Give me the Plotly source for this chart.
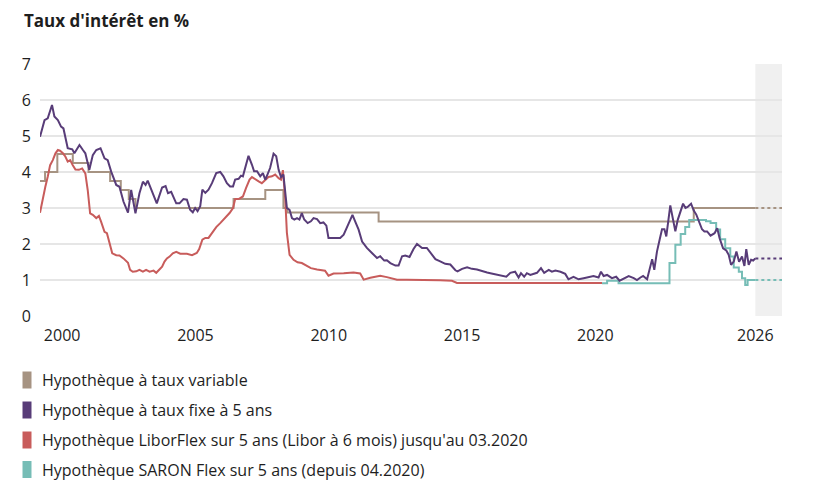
import plotly.graph_objects as go

# ---------------- data ----------------
variable_x = [1999.17, 1999.36, 1999.82, 2000.40, 2000.99, 2001.80, 2002.20, 2002.50, 2002.75,
              2006.43, 2007.62, 2008.30, 2008.45, 2011.87, 2023.69, 2026.00]
variable_y = [3.75, 4.0, 4.5, 4.25, 4.0, 3.75, 3.5, 3.25, 3.0,
              3.25, 3.5, 3.0, 2.875, 2.625, 3.0, 3.0]

fixed_x = [1999.17, 1999.34, 1999.46, 1999.62, 1999.71, 1999.84, 1999.96, 2000.05, 2000.21, 2000.38,
           2000.46, 2000.65, 2000.78, 2000.87, 2001.02, 2001.15, 2001.28, 2001.44, 2001.59, 2001.71,
           2001.84, 2002.03, 2002.15, 2002.30, 2002.47, 2002.59, 2002.75, 2002.90, 2003.03, 2003.13,
           2003.21, 2003.40, 2003.55, 2003.75, 2003.88, 2003.97, 2004.09, 2004.28, 2004.40, 2004.55,
           2004.68, 2004.80, 2004.90, 2004.99, 2005.08, 2005.18, 2005.26, 2005.37, 2005.49, 2005.62,
           2005.78, 2005.93, 2006.05, 2006.18, 2006.30, 2006.41, 2006.49, 2006.62, 2006.71, 2006.78,
           2006.87, 2006.99, 2007.12, 2007.20, 2007.31, 2007.43, 2007.53, 2007.62, 2007.70, 2007.80,
           2007.93, 2008.03, 2008.12, 2008.21, 2008.30, 2008.37, 2008.43, 2008.53, 2008.62, 2008.71,
           2008.81, 2008.90, 2008.99, 2009.08, 2009.21, 2009.33, 2009.43, 2009.56, 2009.68, 2009.80,
           2009.91, 2009.99, 2010.18, 2010.43, 2010.56, 2010.68, 2010.81, 2010.89, 2010.99, 2011.12,
           2011.25, 2011.43, 2011.62, 2011.81, 2011.93, 2012.08, 2012.18, 2012.31, 2012.50, 2012.62,
           2012.75, 2012.87, 2013.03, 2013.18, 2013.31, 2013.41, 2013.50, 2013.68, 2013.81, 2014.00,
           2014.18, 2014.37, 2014.56, 2014.75, 2014.83, 2015.00, 2015.19, 2015.37, 2015.56, 2015.75,
           2015.94, 2016.06, 2016.31, 2016.56, 2016.66, 2016.81, 2016.99, 2017.12, 2017.21, 2017.33,
           2017.43, 2017.56, 2017.68, 2017.81, 2017.96, 2018.08, 2018.25, 2018.37, 2018.50, 2018.69,
           2018.87, 2018.99, 2019.18, 2019.37, 2019.56, 2019.75, 2019.93, 2020.12, 2020.21, 2020.31,
           2020.44, 2020.62, 2020.78, 2020.91, 2021.09, 2021.25, 2021.44, 2021.56, 2021.69, 2021.79,
           2021.94, 2022.04, 2022.13, 2022.21, 2022.31, 2022.41, 2022.50, 2022.59, 2022.66, 2022.81,
           2022.91, 2023.00, 2023.09, 2023.16, 2023.29, 2023.38, 2023.46, 2023.59, 2023.69, 2023.79,
           2023.91, 2024.00, 2024.09, 2024.19, 2024.32, 2024.47, 2024.57, 2024.66, 2024.79, 2024.91,
           2025.00, 2025.09, 2025.19, 2025.29, 2025.39, 2025.50, 2025.59, 2025.66, 2025.75, 2025.84,
           2025.92, 2026.00]
fixed_y = [4.98, 5.44, 5.49, 5.86, 5.54, 5.44, 5.26, 5.21, 4.66, 4.63,
           4.52, 4.75, 4.61, 4.52, 4.06, 4.47, 4.61, 4.66, 4.38, 4.33,
           4.01, 3.64, 3.59, 3.18, 2.87, 3.50, 2.85, 3.41, 3.73, 3.64,
           3.76, 3.41, 3.13, 3.57, 3.61, 3.41, 3.45, 3.13, 3.13, 3.25,
           3.23, 2.95, 2.88, 3.00, 2.91, 3.05, 3.51, 3.42, 3.51, 3.69,
           3.97, 4.00, 3.88, 3.69, 3.60, 3.60, 3.79, 3.81, 3.90, 3.88,
           4.16, 4.45, 4.20, 4.02, 4.02, 3.88, 3.97, 3.79, 3.93, 4.11,
           4.51, 4.44, 4.06, 3.86, 3.93, 3.51, 3.00, 2.95, 2.72, 2.68,
           2.72, 2.68, 2.86, 2.68, 2.58, 2.63, 2.72, 2.69, 2.58, 2.60,
           2.51, 2.17, 2.17, 2.17, 2.26, 2.47, 2.68, 2.81, 2.63, 2.40,
           2.07, 1.89, 1.75, 1.61, 1.66, 1.54, 1.55, 1.47, 1.40, 1.40,
           1.66, 1.68, 1.64, 1.86, 2.00, 1.95, 1.89, 1.89, 1.75, 1.58,
           1.52, 1.45, 1.43, 1.27, 1.24, 1.31, 1.35, 1.31, 1.29, 1.24,
           1.21, 1.19, 1.14, 1.11, 1.09, 1.20, 1.23, 1.07, 1.19, 1.09,
           1.19, 1.14, 1.17, 1.20, 1.33, 1.20, 1.28, 1.23, 1.26, 1.23,
           1.17, 1.02, 1.09, 1.02, 1.05, 1.09, 1.11, 1.07, 1.23, 1.11,
           1.14, 1.05, 1.09, 0.98, 1.05, 1.11, 1.05, 1.00, 1.07, 1.11,
           1.02, 1.28, 1.58, 1.28, 1.79, 2.12, 2.41, 2.41, 2.21, 3.07,
           2.67, 2.35, 2.67, 2.81, 3.12, 3.00, 3.03, 3.12, 2.93, 2.81,
           2.58, 2.41, 2.35, 2.35, 2.23, 2.30, 2.44, 2.16, 1.88, 1.82,
           1.70, 1.42, 1.51, 1.79, 1.51, 1.65, 1.39, 1.86, 1.42, 1.56,
           1.54, 1.60]

libor_x = [1999.17, 1999.28, 1999.37, 1999.46, 1999.55, 1999.65, 1999.75, 1999.84, 1999.92, 2000.03,
           2000.12, 2000.21, 2000.30, 2000.40, 2000.50, 2000.63, 2000.75, 2000.87, 2000.96, 2001.05,
           2001.15, 2001.28, 2001.38, 2001.46, 2001.59, 2001.68, 2001.78, 2001.88, 2002.03, 2002.15,
           2002.30, 2002.47, 2002.55, 2002.65, 2002.78, 2002.90, 2003.03, 2003.15, 2003.28, 2003.43,
           2003.53, 2003.65, 2003.75, 2003.84, 2003.93, 2004.03, 2004.15, 2004.28, 2004.43, 2004.68,
           2004.87, 2005.05, 2005.14, 2005.26, 2005.37, 2005.49, 2005.62, 2005.78, 2005.93, 2006.12,
           2006.28, 2006.41, 2006.49, 2006.62, 2006.78, 2006.90, 2007.03, 2007.12, 2007.24, 2007.37,
           2007.49, 2007.62, 2007.74, 2007.87, 2007.99, 2008.12, 2008.21, 2008.28, 2008.37, 2008.43,
           2008.53, 2008.68, 2008.83, 2008.99, 2009.15, 2009.33, 2009.56, 2009.74, 2009.86, 2009.99,
           2010.18, 2010.56, 2010.93, 2011.18, 2011.31, 2011.56, 2011.93, 2012.18, 2012.56, 2012.93,
           2013.43, 2014.18, 2014.62, 2014.81, 2020.25]
libor_y = [2.87, 3.31, 3.59, 3.87, 4.19, 4.33, 4.52, 4.61, 4.59, 4.52,
           4.43, 4.29, 4.33, 4.19, 4.07, 4.06, 4.10, 3.96, 3.50, 2.85,
           2.81, 2.72, 2.78, 2.62, 2.34, 2.30, 2.02, 1.74, 1.69, 1.68,
           1.60, 1.48, 1.28, 1.23, 1.24, 1.28, 1.23, 1.28, 1.23, 1.26,
           1.20, 1.30, 1.37, 1.51, 1.60, 1.65, 1.74, 1.78, 1.73, 1.73,
           1.69, 1.75, 1.86, 2.12, 2.17, 2.17, 2.32, 2.47, 2.58, 2.72,
           2.86, 3.00, 3.25, 3.25, 3.32, 3.56, 3.79, 3.86, 3.79, 3.74,
           3.69, 3.79, 3.86, 3.88, 3.93, 3.83, 3.79, 4.05, 3.23, 2.31,
           1.70, 1.56, 1.49, 1.47, 1.40, 1.33, 1.29, 1.27, 1.26, 1.12,
           1.18, 1.19, 1.21, 1.18, 1.01, 1.06, 1.12, 1.08, 1.01, 1.01,
           1.01, 0.99, 0.98, 0.92, 0.92]

saron_x = [2020.25, 2020.44, 2020.87, 2022.78, 2023.00, 2023.20, 2023.37, 2023.52, 2024.15, 2024.32,
           2024.53, 2024.68, 2024.87, 2025.06, 2025.19, 2025.38, 2025.50, 2025.62, 2025.71, 2026.00]
saron_y = [0.91, 0.98, 0.91, 1.47, 1.98, 2.28, 2.47, 2.67, 2.63, 2.58,
           2.40, 2.13, 1.88, 1.65, 1.35, 1.23, 1.05, 0.86, 1.00, 1.00]

forecast_start = 2026.0
forecast_end = 2027.0

x_tick_vals = [2000, 2005, 2010, 2015, 2020, 2026]
x_tick_text = ["2000", "2005", "2010", "2015", "2020", "2026"]
y_tick_vals = [0, 1, 2, 3, 4, 5, 6, 7]

title_text = "Taux d'intérêt en %"
legend_labels = ["Hypothèque à taux variable",
                 "Hypothèque à taux fixe à 5 ans",
                 "Hypothèque LiborFlex sur 5 ans (Libor à 6 mois) jusqu'au 03.2020",
                 "Hypothèque SARON Flex sur 5 ans (depuis 04.2020)"]

# ---------------- style ----------------
C_VAR = "#A69382"
C_FIX = "#583C78"
C_LIB = "#C85C5B"
C_SAR = "#76BDB6"
FONT = "Open Sans"
TXT = "#1e1e1e"

OFF = 8  # page body margin of the browser
W, H = 821 - OFF, 496 - OFF
# plot area in page pixels: x 40..782, y 64..316
ML = 40 - OFF
MT = 64 - OFF
MR = W - (782 - OFF)
MB = H - (316 - OFF)
PW, PH = W - ML - MR, H - MT - MB


def px_x(px):
    return (px - OFF - ML) / PW


def px_y(py):
    return (H - MB - (py - OFF)) / PH


fig = go.Figure()

# forecast shading
fig.add_shape(type="rect", xref="x", yref="y", x0=forecast_start, x1=forecast_end, y0=0, y1=7,
              fillcolor="#F0F0F0", line_width=0, layer="below")

series = [
    (variable_x, variable_y, C_VAR, "hv"),
    (libor_x, libor_y, C_LIB, "linear"),
    (saron_x, saron_y, C_SAR, "hv"),
    (fixed_x, fixed_y, C_FIX, "linear"),
]
for xs, ys, col, shape in series:
    fig.add_trace(go.Scatter(x=xs, y=ys, mode="lines", line=dict(color=col, width=2, shape=shape),
                             showlegend=False, hoverinfo="skip"))

# dotted forecast extensions
for xs, ys, col in [(variable_x, variable_y, C_VAR), (fixed_x, fixed_y, C_FIX), (saron_x, saron_y, C_SAR)]:
    fig.add_trace(go.Scatter(x=[forecast_start, forecast_end], y=[ys[-1], ys[-1]], mode="lines",
                             line=dict(color=col, width=2, dash="dot"), showlegend=False, hoverinfo="skip"))

# title
fig.add_annotation(text="<b>" + title_text + "</b>", xref="paper", yref="paper", x=px_x(22), y=px_y(20.5),
                   xanchor="left", yanchor="middle", showarrow=False,
                   font=dict(family=FONT, size=17, color=TXT))

# legend (manual)
legend_colors = [C_VAR, C_FIX, C_LIB, C_SAR]
row_y = [380, 410, 440, 469.5]
for lab, col, ry in zip(legend_labels, legend_colors, row_y):
    fig.add_shape(type="rect", xref="paper", yref="paper", x0=px_x(22.5), x1=px_x(31.5),
                  y0=px_y(ry + 8.5), y1=px_y(ry - 8.5), fillcolor=col, line_width=0)
    fig.add_annotation(text=lab, xref="paper", yref="paper", x=px_x(40), y=px_y(ry),
                       xanchor="left", yanchor="middle", showarrow=False,
                       font=dict(family=FONT, size=16, color=TXT))

fig.update_layout(
    width=W, height=H,
    margin=dict(l=ML, r=MR, t=MT, b=MB, pad=0),
    paper_bgcolor="white", plot_bgcolor="white",
    font=dict(family=FONT, size=16, color=TXT),
    xaxis=dict(range=[1999.17, forecast_end], tickvals=x_tick_vals, ticktext=x_tick_text,
               showgrid=False, zeroline=False, showline=False, ticks="", ticklabelstandoff=8,
               tickfont=dict(size=16, color=TXT)),
    yaxis=dict(range=[0, 7], tickvals=y_tick_vals, showgrid=True, gridcolor="#E6E6E6", gridwidth=1.5,
               zeroline=False, showline=False, ticks="", ticklabelstandoff=8,
               tickfont=dict(size=16, color=TXT)),
)

fig.write_html("out.html")
